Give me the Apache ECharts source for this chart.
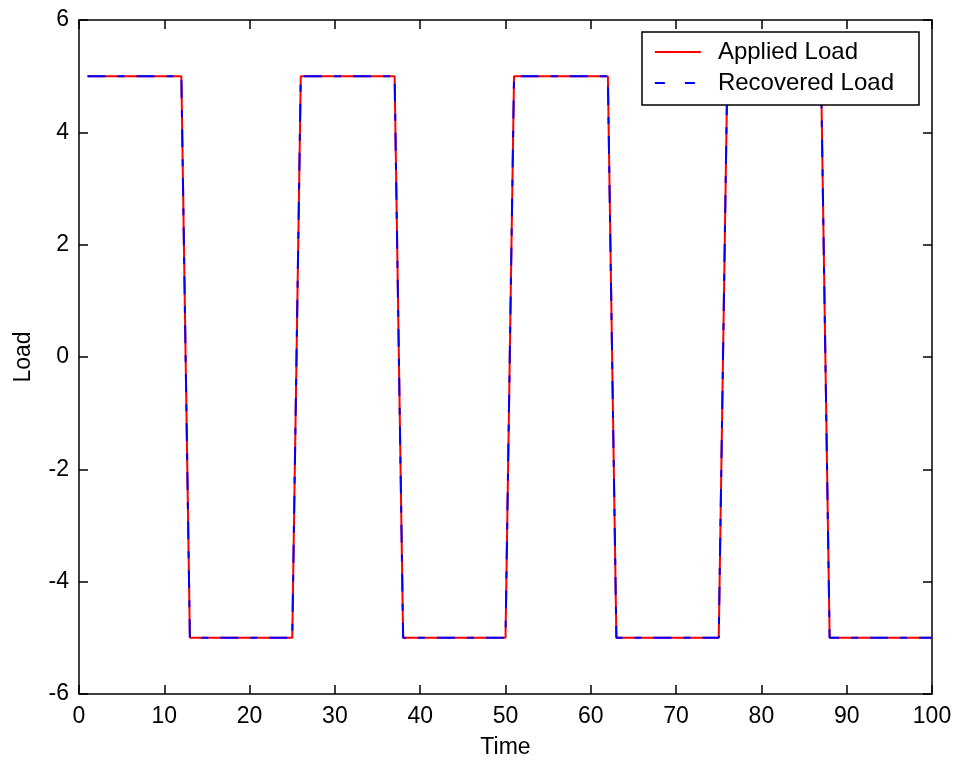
<!DOCTYPE html>
<html>
<head>
<meta charset="utf-8">
<script src="https://cdn.jsdelivr.net/npm/echarts@6/dist/echarts.min.js"></script>
<style>
  html, body { margin: 0; padding: 0; background: #fff; }
  #chart { width: 955px; height: 765px; }
</style>
</head>
<body>
<div id="chart"></div>
<script>
// Sample times (s)
const timeSteps = [
  1, 2, 3, 4, 5, 6, 7, 8, 9, 10,
  11, 12, 13, 14, 15, 16, 17, 18, 19, 20,
  21, 22, 23, 24, 25, 26, 27, 28, 29, 30,
  31, 32, 33, 34, 35, 36, 37, 38, 39, 40,
  41, 42, 43, 44, 45, 46, 47, 48, 49, 50,
  51, 52, 53, 54, 55, 56, 57, 58, 59, 60,
  61, 62, 63, 64, 65, 66, 67, 68, 69, 70,
  71, 72, 73, 74, 75, 76, 77, 78, 79, 80,
  81, 82, 83, 84, 85, 86, 87, 88, 89, 90,
  91, 92, 93, 94, 95, 96, 97, 98, 99, 100
];

// Load that was applied at each sample
const appliedLoad = [
  5, 5, 5, 5, 5, 5, 5, 5, 5, 5,
  5, 5, -5, -5, -5, -5, -5, -5, -5, -5,
  -5, -5, -5, -5, -5, 5, 5, 5, 5, 5,
  5, 5, 5, 5, 5, 5, 5, -5, -5, -5,
  -5, -5, -5, -5, -5, -5, -5, -5, -5, -5,
  5, 5, 5, 5, 5, 5, 5, 5, 5, 5,
  5, 5, -5, -5, -5, -5, -5, -5, -5, -5,
  -5, -5, -5, -5, -5, 5, 5, 5, 5, 5,
  5, 5, 5, 5, 5, 5, 5, -5, -5, -5,
  -5, -5, -5, -5, -5, -5, -5, -5, -5, -5
];

// Load recovered by the identification at each sample
const recoveredLoad = [
  5, 5, 5, 5, 5, 5, 5, 5, 5, 5,
  5, 5, -5, -5, -5, -5, -5, -5, -5, -5,
  -5, -5, -5, -5, -5, 5, 5, 5, 5, 5,
  5, 5, 5, 5, 5, 5, 5, -5, -5, -5,
  -5, -5, -5, -5, -5, -5, -5, -5, -5, -5,
  5, 5, 5, 5, 5, 5, 5, 5, 5, 5,
  5, 5, -5, -5, -5, -5, -5, -5, -5, -5,
  -5, -5, -5, -5, -5, 5, 5, 5, 5, 5,
  5, 5, 5, 5, 5, 5, 5, -5, -5, -5,
  -5, -5, -5, -5, -5, -5, -5, -5, -5, -5
];

const xTicks = [0, 10, 20, 30, 40, 50, 60, 70, 80, 90, 100];
const yTicks = [-6, -4, -2, 0, 2, 4, 6];

const FONT = '"Liberation Sans", Arial, sans-serif';
const INK = '#000';

const pairs = (xs, ys) => xs.map((x, i) => [x, ys[i]]);

const axisLineStyle = { show: true, onZero: false, lineStyle: { color: INK, width: 1.5 } };
const tickStyle = { show: true, inside: true, length: 9, lineStyle: { color: INK, width: 1.5 } };

const xBase = {
  type: 'value',
  min: xTicks[0],
  max: xTicks[xTicks.length - 1],
  interval: xTicks[1] - xTicks[0],
  splitLine: { show: false },
  axisLine: axisLineStyle,
  axisTick: tickStyle
};
const yBase = {
  type: 'value',
  min: yTicks[0],
  max: yTicks[yTicks.length - 1],
  interval: yTicks[1] - yTicks[0],
  splitLine: { show: false },
  axisLine: axisLineStyle,
  axisTick: tickStyle
};

const chart = echarts.init(document.getElementById('chart'), null, { renderer: 'canvas' });

chart.setOption({
  animation: false,
  backgroundColor: '#fff',
  textStyle: { fontFamily: FONT },
  grid: { left: 79, right: 23, top: 20, bottom: 71, containLabel: false },
  xAxis: [
    Object.assign({}, xBase, {
      position: 'bottom',
      name: 'Time',
      nameLocation: 'middle',
      nameGap: 42,
      nameTextStyle: { color: INK, fontSize: 23, fontFamily: FONT },
      axisLabel: { color: INK, fontSize: 23, fontFamily: FONT, margin: 11 }
    }),
    Object.assign({}, xBase, {
      position: 'top',
      axisLabel: { show: false }
    })
  ],
  yAxis: [
    Object.assign({}, yBase, {
      position: 'left',
      name: 'Load',
      nameLocation: 'middle',
      nameGap: 44,
      nameTextStyle: { color: INK, fontSize: 23, fontFamily: FONT },
      axisLabel: { color: INK, fontSize: 23, fontFamily: FONT, margin: 10 }
    }),
    Object.assign({}, yBase, {
      position: 'right',
      axisLabel: { show: false }
    })
  ],
  legend: {
    orient: 'vertical',
    right: 36,
    top: 32,
    padding: [7, 25, 9, 12],
    itemGap: 5,
    itemWidth: 46,
    itemHeight: 14,
    borderColor: INK,
    borderWidth: 1.5,
    backgroundColor: '#fff',
    selectedMode: false,
    textStyle: {
      color: INK,
      fontSize: 24,
      fontFamily: FONT,
      lineHeight: 26,
      padding: [0, 0, 0, 12]
    },
    data: [
      {
        name: 'Applied Load',
        itemStyle: { opacity: 0 },
        lineStyle: { color: '#ff0000', width: 1.8, type: 'solid' }
      },
      {
        name: 'Recovered Load',
        itemStyle: { opacity: 0 },
        lineStyle: { color: '#0000ff', width: 1.8, type: [10, 20] }
      }
    ]
  },
  series: [
    {
      name: 'Applied Load',
      type: 'line',
      xAxisIndex: 0,
      yAxisIndex: 0,
      data: pairs(timeSteps, appliedLoad),
      symbol: 'none',
      lineStyle: { color: '#ff0000', width: 2, type: 'solid' },
      itemStyle: { color: '#ff0000' },
      z: 2
    },
    {
      name: 'Recovered Load',
      type: 'line',
      xAxisIndex: 0,
      yAxisIndex: 0,
      data: pairs(timeSteps, recoveredLoad),
      symbol: 'none',
      lineStyle: { color: '#0000ff', width: 2, type: [18, 12, 7, 12] },
      itemStyle: { color: '#0000ff' },
      z: 3
    }
  ]
});
</script>
</body>
</html>
